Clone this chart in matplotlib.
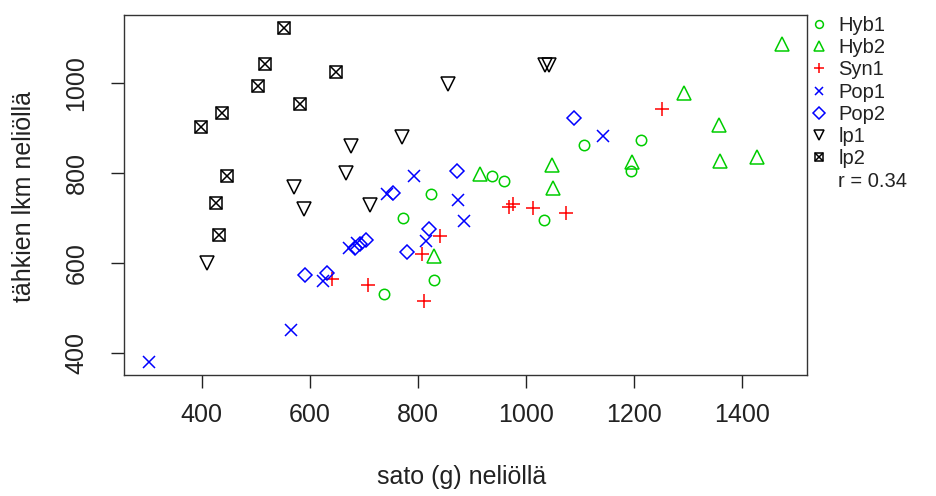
import numpy as np
import matplotlib
matplotlib.use('Agg')
import matplotlib.pyplot as plt
from matplotlib.lines import Line2D
from matplotlib.legend_handler import HandlerTuple

plt.rcParams['font.family'] = ['Liberation Sans', 'DejaVu Sans']

# sato (g) / tähkien lkm per neliö
hyb1_x = [824, 773, 829, 737, 937, 959, 1033, 1107, 1212, 1194]
hyb1_y = [754, 700, 563, 532, 793, 782, 695, 863, 874, 804]
hyb2_x = [830, 915, 1048, 1050, 1196, 1293, 1357, 1359, 1428, 1473]
hyb2_y = [615, 797, 817, 767, 825, 978, 906, 826, 835, 1086]
syn1_x = [841, 807, 641, 708, 812, 1251, 968, 976, 1013, 1074]
syn1_y = [661, 621, 565, 552, 515, 941, 725, 732, 722, 711]
pop1_x = [793, 742, 875, 886, 672, 688, 624, 815, 565, 303, 1143]
pop1_y = [793, 754, 741, 693, 633, 645, 559, 648, 452, 381, 883]
pop2_x = [873, 753, 683, 693, 703, 821, 779, 591, 632, 1088]
pop2_y = [804, 756, 633, 643, 650, 676, 625, 574, 578, 923]
lp1_x = [855, 771, 676, 667, 570, 590, 712, 409, 1036, 1043]
lp1_y = [998, 879, 859, 800, 768, 720, 728, 600, 1040, 1040]
lp2_x = [553, 517, 504, 649, 581, 438, 398, 447, 427, 432]
lp2_y = [1121, 1041, 992, 1023, 952, 932, 902, 793, 733, 663]
r_text = 'r = 0.34'

fig = plt.figure(figsize=(9.36, 4.96), dpi=100)
ax = fig.add_axes([124/936, 1 - 375/496, (807-124)/936, (375-15)/496])

ew = 1.1
kw = dict(linestyle='none', markerfacecolor='none', markeredgewidth=ew)
h1, = ax.plot(hyb1_x, hyb1_y, marker='o', markersize=7.5, color='#00CD00', **kw)
h2, = ax.plot(hyb2_x, hyb2_y, marker='^', markersize=10, color='#00CD00', **kw)
s1, = ax.plot(syn1_x, syn1_y, marker='+', markersize=10.5, color='#FF0000', **kw)
p1, = ax.plot(pop1_x, pop1_y, marker='x', markersize=8, color='#0000FF', **kw)
p2, = ax.plot(pop2_x, pop2_y, marker='D', markersize=7.5, color='#0000FF', **kw)
l1, = ax.plot(lp1_x, lp1_y, marker='v', markersize=10, color='black', **kw)
l2a, = ax.plot(lp2_x, lp2_y, marker='s', markersize=8.5, color='black', **kw)
l2b, = ax.plot(lp2_x, lp2_y, marker='x', markersize=8.5, color='black', **kw)

# R style 4 % padding
allx = np.concatenate([hyb1_x, hyb2_x, syn1_x, pop1_x, pop2_x, lp1_x, lp2_x])
ally = np.concatenate([hyb1_y, hyb2_y, syn1_y, pop1_y, pop2_y, lp1_y, lp2_y])
dx = (allx.max() - allx.min()) * 0.04
dy = (ally.max() - ally.min()) * 0.04
ax.set_xlim(allx.min() - dx, allx.max() + dx)
ax.set_ylim(ally.min() - dy, ally.max() + dy)

ax.set_xticks([400, 600, 800, 1000, 1200, 1400])
ax.set_yticks([400, 600, 800, 1000])
ax.tick_params(direction='out', length=9.5, width=1.0, labelsize=18, colors='#222222')
ax.tick_params(axis='x', pad=11)
ax.tick_params(axis='y', pad=16)
for t in ax.get_yticklabels():
    t.set_rotation(90)
    t.set_va('center')
for sp in ax.spines.values():
    sp.set_linewidth(1.0)
    sp.set_color('#333333')

fig.text(462/936, 1 - 477/496, 'sato (g) neliöllä', ha='center', va='center',
         fontsize=18, color='#222222')
fig.text(24/936, 1 - 197/496, 'tähkien lkm neliöllä', ha='center', va='center',
         rotation=90, fontsize=18, color='#222222')

blank = Line2D([], [], linestyle='none', marker='none')
leg = ax.legend([h1, h2, s1, p1, p2, l1, (l2a, l2b), blank],
                ['Hyb1', 'Hyb2', 'Syn1', 'Pop1', 'Pop2', 'lp1', 'lp2', r_text],
                loc='upper left', bbox_to_anchor=(810/936, 1 - 16/496),
                bbox_transform=fig.transFigure, frameon=False, fontsize=14.5,
                labelspacing=0.16, handlelength=0.9, handletextpad=0.5,
                borderaxespad=0, borderpad=0, markerscale=0.75,
                handler_map={tuple: HandlerTuple(ndivide=1, pad=0)})
for t in leg.get_texts():
    t.set_color('#222222')

fig.savefig('out.png', dpi=100)
